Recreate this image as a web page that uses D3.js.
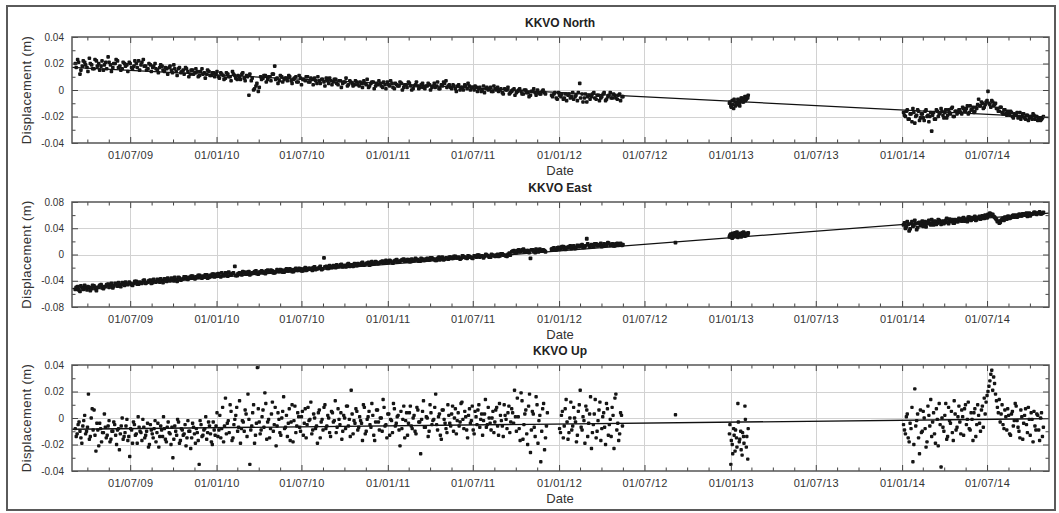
<!DOCTYPE html>
<html><head><meta charset="utf-8">
<script src="https://cdn.jsdelivr.net/npm/d3@7"></script>
<style>
body{margin:0;background:#fff}
text{font-family:"Liberation Sans",Arial,Helvetica,sans-serif}
</style>
</head><body>
<svg id="c" width="1059" height="513"></svg>
<script>
// ---------- axis / tick data ----------
const xDomain = ["2009-02-27", "2014-11-10"];
const xTickDates = ["2009-07-01","2010-01-01","2010-07-01","2011-01-01","2011-07-01","2012-01-01","2012-07-01","2013-01-01","2013-07-01","2014-01-01","2014-07-01"];
const xTickLabels = ["01/07/09","01/01/10","01/07/10","01/01/11","01/07/11","01/01/12","01/07/12","01/01/13","01/07/13","01/01/14","01/07/14"];
const titles = ["KKVO North", "KKVO East", "KKVO Up"];
const northYTicks = [0.04, 0.02, 0, -0.02, -0.04];
const northYLabels = ["0.04", "0.02", "0", "-0.02", "-0.04"];
const eastYTicks = [0.08, 0.04, 0, -0.04, -0.08];
const eastYLabels = ["0.08", "0.04", "0", "-0.04", "-0.08"];
const upYTicks = [0.04, 0.02, 0, -0.02, -0.04];
const upYLabels = ["0.04", "0.02", "0", "-0.02", "-0.04"];

// ---------- series data (displacement in mm) ----------
// "A" and "B" sample sets are interleaved in time
const seg1StartA = "2009-03-06", seg1StartB = "2009-03-08";
const seg2StartA = "2012-12-29", seg2StartB = "2012-12-30";
const seg3StartA = "2014-01-04", seg3StartB = "2014-01-06";
const seg1Step = 5, upSeg1Step = 4, seg2Step = 3, seg3Step = 4;

const northSeg1A = [20,23,12,18,21,17,24,19,16,22, 20,18,15,21,25,19,17,20,22,18, 16,20,19,21,17,18,20,22,19,23,
 18,16,19,17,20,15,17,18,14,16, 17,15,19,14,16,13,15,17,14,12, 15,13,14,11,16,13,12,14,11,13,
 12,10,13,11,9,12,10,14,11,8, 10,12,9,11,-4,7,0,3,-1,10, 9,11,8,10,12,18,9,7,10,8,
 9,11,7,8,10,6,9,8,7,10, 6,8,9,5,7,8,6,9,5,7, 6,8,4,7,5,6,3,7,5,4,
 6,3,5,7,4,2,5,6,3,4, 5,2,4,6,3,5,1,4,3,5, 2,4,6,3,1,4,3,2,5,1,
 3,4,2,5,3,1,4,6,7,3, 2,4,1,3,0,2,4,1,3,2, 0,2,1,-1,3,1,0,2,-1,1,
 2,0,-2,1,0,-3,-1,1,-2,0, -1,-3,0,-2,-4,-1,-2,0,-3,-1, -2,null,null,-4,-3,-6,-2,-5,-7,-3,
 -4,-6,-2,-5,-8,5,-3,-6,-9,-4, -5,-2,-7,-4,-6,-3,-8,-5,-2,-6, -4,-7,-3,-5];
const northSeg1B = [17,21,15,22,19,14,20,16,23,18, 15,22,19,16,21,14,20,23,17,15, 21,18,14,20,16,22,17,15,21,18,
 15,20,14,18,16,13,19,15,17,12, 18,13,16,11,17,14,12,16,10,15, 12,16,10,14,12,9,15,11,13,10,
 14,9,12,8,13,10,7,12,9,11, 8,13,7,10,12,9,1,5,2,8, 11,6,10,7,12,8,5,11,6,9,
 7,10,5,9,6,11,4,8,10,6, 9,4,7,10,5,8,3,7,9,4, 8,5,7,2,6,9,4,6,3,7,
 4,6,2,5,8,3,6,1,5,7, 3,6,1,4,7,2,5,3,6,0, 4,2,5,0,3,6,1,4,2,3,
 5,0,3,2,6,1,3,5,2,4, 1,3,-1,4,2,0,3,5,0,2, 3,-1,2,0,-2,2,1,-1,3,0,
 -1,1,-3,0,2,-2,0,-4,-1,1, -3,0,-2,-5,-1,1,-4,-2,-3,0, -3,null,null,-5,-2,-7,-4,-3,-6,-8,
 -3,-5,-7,-4,-2,-6,-9,-3,-5,-7, -3,-6,-4,-8,-5,-2,-7,-4,-6,-3, -6,-4,-8,-5];
const northSeg2A = [-10,-12,-8,-14,-9,-11,-7,-10,-8,-6,-9,-5,-7,-6];
const northSeg2B = [-9,-13,-11,-7,-12,-10,-8,-12,-6,-9,-7,-8,-5,-4];
const northSeg3A = [-17,-20,-15,-22,-18,-14,-25,-19,-16,-21, -18,-23,-15,-19,-20,-31,-17,-22,-16,-18,
 -14,-19,-17,-21,-15,-18,-13,-20,-16,-17, -15,-18,-14,-16,-12,-17,-15,-13,-16,-14,
 -7,-12,-10,-13,-9,-1,-11,-8,-12,-10, -14,-16,-13,-18,-15,-19,-17,-16,-20,-18,
 -19,-21,-17,-20,-18,-22,-19,-21,-20,-18, -22,-20,-21,-23,-21];
const northSeg3B = [-19,-16,-22,-18,-24,-17,-20,-15,-23,-18, -21,-16,-20,-24,-17,-19,-22,-15,-20,-17,
 -16,-21,-15,-19,-17,-14,-20,-16,-18,-15, -17,-13,-16,-14,-18,-12,-15,-17,-13,-11,
 -12,-9,-14,-11,-8,-10,-13,-9,-11,-14, -16,-13,-17,-15,-18,-16,-19,-17,-21,-19,
 -17,-20,-22,-18,-21,-19,-23,-20,-22,-19, -20,-23,-21,-22,-20];

const eastSeg1A = [-53,-49,-56,-51,-47,-54,-50,-52,-48,-55, -50,-46,-52,-49,-45,-47,-51,-44,-48,-46, -43,-47,-45,-42,-46,-44,-41,-45,-43,-40,
 -44,-42,-39,-43,-41,-38,-42,-40,-37,-41, -39,-36,-40,-38,-35,-39,-37,-34,-38,-36, -33,-37,-35,-32,-36,-34,-31,-35,-33,-30,
 -32,-29,-34,-31,-28,-33,-30,-29,-18,-32, -28,-31,-27,-30,-26,-29,-28,-25,-30,-27, -26,-29,-24,-27,-25,-28,-23,-26,-24,-27,
 -22,-25,-23,-26,-21,-24,-22,-25,-20,-23, -21,-24,-19,-22,-20,-23,-5,-18,-21,-19, -17,-20,-18,-16,-19,-17,-15,-18,-16,-14,
 -17,-15,-13,-16,-14,-12,-15,-13,-11,-14, -12,-10,-13,-11,-9,-12,-10,-8,-11,-9, -7,-10,-8,-11,-9,-6,-8,-10,-7,-9,
 -6,-8,-5,-7,-9,-4,-6,-8,-5,-7, -4,-6,-3,-5,-7,-2,-4,-6,-3,-5, -2,-4,-1,-3,-5,0,-2,-4,-1,-3,
 0,-2,1,-1,-3,2,4,6,3,7, 5,8,4,6,-6,7,3,6,8,5, 6,null,null,8,10,7,11,9,12,8,
 10,13,11,9,14,12,15,11,24,13, 15,12,16,14,17,13,15,18,14,16, 13,17,15,14];
const eastSeg1B = [-50,-54,-48,-53,-51,-49,-55,-47,-52,-50, -47,-51,-49,-46,-50,-44,-48,-46,-43,-49, -45,-42,-46,-44,-47,-41,-45,-42,-44,-39,
 -43,-40,-44,-38,-42,-40,-37,-43,-39,-36, -40,-37,-35,-41,-36,-38,-34,-37,-35,-33, -36,-34,-32,-35,-33,-31,-36,-32,-30,-34,
 -30,-33,-28,-32,-30,-27,-31,-28,-32,-29, -30,-26,-29,-27,-31,-28,-26,-29,-27,-25, -28,-25,-27,-24,-28,-26,-25,-23,-27,-24,
 -25,-22,-26,-23,-24,-21,-25,-22,-24,-21, -22,-20,-23,-21,-18,-22,-19,-21,-17,-20, -19,-16,-18,-15,-17,-19,-14,-16,-18,-15,
 -14,-16,-12,-15,-13,-16,-11,-14,-12,-13, -11,-13,-9,-12,-10,-13,-9,-11,-10,-8, -10,-8,-11,-7,-9,-8,-10,-6,-9,-7,
 -8,-5,-7,-9,-6,-8,-4,-7,-6,-4, -6,-3,-5,-4,-6,-3,-5,-2,-4,-6, -3,-1,-4,-2,-3,-1,-4,0,-2,-1,
 -3,1,-1,-2,0,-1,5,3,6,4, 7,4,6,3,7,5,8,4,6,7, 4,null,null,9,7,10,8,12,9,11,
 12,9,13,11,12,14,11,13,16,12, 14,16,13,15,12,16,14,17,15,13, 16,14,17,15];
const eastSeg2A = [27,31,25,29,33,28,26,30,32,29,34,28,31,30];
const eastSeg2B = [29,26,32,27,30,34,29,31,27,33,30,32,29,33];
const eastSeg3A = [45,40,50,36,47,43,52,38,48,44, 51,46,42,49,47,53,45,50,48,52, 46,51,49,55,47,50,53,48,52,50,
 54,51,56,53,50,57,52,55,58,53, 56,54,59,55,57,61,63,60,58,55, 50,48,52,55,57,54,58,56,59,57,
 60,58,61,59,62,60,58,63,61,62, 64,61,63,62,63];
const eastSeg3B = [48,42,46,39,50,44,47,41,49,46, 43,50,47,52,45,48,51,46,53,49, 50,47,52,49,54,51,48,53,50,55,
 52,55,51,54,57,53,56,54,52,56, 58,55,57,60,56,59,62,61,57,53, 51,49,54,52,56,58,55,57,60,58,
 57,61,59,62,60,63,61,59,62,64, 62,63,65,62,64];

const upSeg1A = [-8,-12,-3,-15,-6,2,-10,18,-14,7, 6,-25,-9,-4,-18,-11,-7,-13,-2,-16, -10,-5,-20,-8,-12,0,-14,-6,-17,-29,
 -9,-3,-13,-19,-7,-11,-1,-15,-10,-22, -5,-12,-8,-18,-4,-14,-9,1,-16,-7, -11,-20,-30,-6,-13,-3,-17,-9,-12,-21,
 -2,-10,-15,-7,-19,-11,-35,-5,-13,-8, -16,-3,-12,-20,-9,-6,-14,2,-8,-18, 15,-4,-11,5,-15,-1,8,-7,-19,-2,
 -10,3,18,-35,-6,10,-13,38,-3,-9, 6,19,-16,-1,-8,12,-5,-21,4,-11, 0,16,-7,-14,7,-3,-18,9,-6,1,
 -10,5,-4,-15,8,-1,-12,3,-8,-19, 6,-3,-9,10,-6,0,-14,4,-2,-11, 7,-5,-16,2,-8,9,-1,21,-12,-4,
 5,-7,-2,-17,8,-10,1,-5,11,-13, -3,6,-9,0,14,-6,-15,3,-1,-11, 7,-4,2,-21,-8,9,-2,-13,4,-6,
 0,-10,8,-3,-27,5,-7,1,-14,10, -5,-1,18,-9,3,-16,6,-4,-11,2, -6,9,0,-12,4,-3,12,-8,1,-15,
 7,-2,-9,5,-5,10,-1,-13,3,-7, 8,-4,0,-11,6,-6,11,-2,-14,2, -8,9,-3,4,21,-10,1,-17,13,-5,
 6,-20,18,-9,3,-14,10,-2,-33,7, -24,-6,null,null,null,null,null,null,-8,2, -15,7,-3,-11,12,-6,0,-18,5,21,
 -9,-2,9,-14,3,-23,-5,14,-10,6, -17,1,-7,11,-13,-1,8,-23,18,-4, -12,2];
const upSeg1B = [-14,-5,-10,-19,-2,-12,-7,-16,0,-9, -13,-4,-21,-8,-11,3,-15,-6,-18,-10, -3,-13,-9,-24,-6,-16,-11,-1,-14,-8,
 -19,-5,-12,1,-10,-17,-7,-13,-4,-20, -9,-15,-2,-11,-22,-6,-14,-8,-18,-3, -12,-7,-16,-10,-1,-19,-8,-13,-5,-15,
 -10,-23,-4,-12,-8,-17,-2,-14,-9,1, -11,-6,-18,-3,-13,4,-9,-15,8,-6, -12,-2,10,-17,-5,2,-10,13,-8,-3,
 6,-14,-1,-9,4,-19,-4,7,-12,1, -7,11,-3,-15,3,-10,8,-6,-1,-13, 5,-8,2,-4,-17,10,-2,-11,4,-7,
 1,-13,7,-5,-2,12,-9,0,-6,4, -15,-1,8,-8,2,-11,5,-3,13,-7, -1,4,-10,0,9,-6,-14,3,-2,7,
 -9,1,-4,10,-12,-1,5,-7,2,-17, 6,-3,0,-10,8,-5,3,-13,-2,11, -6,1,-9,5,-1,-15,4,-4,9,-8,
 2,-12,6,-3,-1,13,-7,0,-10,4, -2,8,-5,1,-13,6,-1,-8,10,-4, 3,-10,7,-2,-6,11,-1,5,-9,2,
 -4,9,-12,1,6,-7,3,-2,14,-5, 0,-9,5,-3,8,-13,2,-6,10,-1, 4,-11,7,-4,1,15,-8,19,-16,3,
 -12,9,-26,5,-7,16,-19,2,-10,11, -15,4,null,null,null,null,null,null,-11,5, -6,14,-16,0,-9,8,-3,-13,10,-7,
 1,-19,6,-4,16,-11,3,-15,-2,12, -8,4,-20,7,-5,-14,2,15,-9,-17, 4,-6];
const upSeg2A = [-12,-35,-20,-8,-25,-15,11,-18,-10,-28,-14,9,-22,-31];
const upSeg2B = [-5,-17,-27,-13,-9,-22,-3,-16,-24,-11,-19,-1,-14,-8];
const upSeg3A = [-5,-12,3,-18,-8,-33,22,-2,-15,6, -10,0,-22,9,-6,-14,4,-19,-1,11, -37,-7,2,-16,8,-4,-11,13,-9,1,
 -3,6,-13,10,-1,-8,4,-17,7,-5, 2,-10,9,15,12,20,28,36,31,18, 8,14,3,-5,6,-9,2,-13,5,-2,
 9,-7,-15,1,-4,7,-11,-1,4,-18, -6,3,-9,0,-14];
const upSeg3B = [-9,1,-15,-4,8,-20,-6,3,-27,-11, 5,-8,-18,2,14,-3,-12,7,-21,-5, 0,-10,11,-14,-2,5,-17,3,-7,9,
 -12,1,7,-5,12,-9,-1,4,-14,10, -4,6,-7,3,17,24,33,21,26,13, 4,-3,10,-8,1,7,-12,3,-6,11,
 -2,-10,6,-16,2,-5,8,-13,-1,5, -9,2,-17,4,-7];

const loneDates = ["2012-09-05"];
const eastLone = [18];
const upLone = [2.5];

// fitted linear trends (m)
const lineDates = ["2009-02-27", "2014-11-10"];
const northLine = [0.0170, -0.0208];
const eastLine = [-0.052, 0.063];
const upLine = [-0.0085, -0.0005];

// ---------- drawing ----------
const parse = s => new Date(s + "T00:00:00Z");
const addDays = (d, n) => new Date(d.getTime() + n * 86400000);
const svg = d3.select("#c");
svg.append("rect").attr("width", 1059).attr("height", 513).attr("fill", "#fff");
svg.append("rect").attr("x", 7).attr("y", 6).attr("width", 1048).attr("height", 504)
  .attr("fill", "none").attr("stroke", "#5a5a5a").attr("stroke-width", 2);

const X0 = 72, X1 = 1049;
const x = d3.scaleUtc().domain(xDomain.map(parse)).range([X0, X1]);
const majorDates = xTickDates.map(parse);
// minor tick dates: quarter positions between labelled dates
const minorDates = [];
for (let k = -3; k < majorDates.length * 4; k++) {
  if (k % 4 === 0) continue;
  const base = majorDates[0].getTime() + (k / 4) * (majorDates[majorDates.length - 1] - majorDates[0]) / (majorDates.length - 1);
  const d = new Date(base);
  if (d >= x.domain()[0] && d <= x.domain()[1]) minorDates.push(d);
}

function series(start, step, vals) {
  const s = parse(start), out = [];
  vals.forEach((v, i) => { if (v !== null) out.push({ d: addDays(s, i * step), v: v / 1000 }); });
  return out;
}

const panels = [
  { top: 37, bottom: 143, lim: 0.04, ticks: northYTicks, labels: northYLabels, minor: 0.01, ms: 3.6,
    pts: [...series(seg1StartA, seg1Step, northSeg1A), ...series(seg1StartB, seg1Step, northSeg1B),
          ...series(seg2StartA, seg2Step, northSeg2A), ...series(seg2StartB, seg2Step, northSeg2B),
          ...series(seg3StartA, seg3Step, northSeg3A), ...series(seg3StartB, seg3Step, northSeg3B)],
    line: northLine },
  { top: 202, bottom: 307, lim: 0.08, ticks: eastYTicks, labels: eastYLabels, minor: 0.02, ms: 3.8,
    pts: [...series(seg1StartA, seg1Step, eastSeg1A), ...series(seg1StartB, seg1Step, eastSeg1B),
          ...series(seg2StartA, seg2Step, eastSeg2A), ...series(seg2StartB, seg2Step, eastSeg2B),
          ...series(seg3StartA, seg3Step, eastSeg3A), ...series(seg3StartB, seg3Step, eastSeg3B),
          ...loneDates.map((d, i) => ({ d: parse(d), v: eastLone[i] / 1000 }))],
    line: eastLine },
  { top: 365, bottom: 471, lim: 0.04, ticks: upYTicks, labels: upYLabels, minor: 0.01, ms: 3.4,
    pts: [...series(seg1StartA, upSeg1Step, upSeg1A), ...series(seg1StartB, upSeg1Step, upSeg1B),
          ...series(seg2StartA, seg2Step, upSeg2A), ...series(seg2StartB, seg2Step, upSeg2B),
          ...series(seg3StartA, seg3Step, upSeg3A), ...series(seg3StartB, seg3Step, upSeg3B),
          ...loneDates.map((d, i) => ({ d: parse(d), v: upLone[i] / 1000 }))],
    line: upLine }
];

panels.forEach((p, pi) => {
  const y = d3.scaleLinear().domain([-p.lim, p.lim]).range([p.bottom, p.top]);
  const g = svg.append("g");
  const minorY = d3.range(-p.lim, p.lim + 1e-9, p.minor).filter(v => !p.ticks.some(t => Math.abs(t - v) < 1e-9));

  // grid
  g.append("g").selectAll("line").data(majorDates).join("line")
    .attr("x1", d => Math.round(x(d)) + 0.5).attr("x2", d => Math.round(x(d)) + 0.5)
    .attr("y1", p.top).attr("y2", p.bottom).attr("stroke", "#d2d2d2").attr("stroke-width", 1);
  g.append("g").selectAll("line").data(p.ticks.filter(t => Math.abs(t) < p.lim - 1e-9)).join("line")
    .attr("x1", X0).attr("x2", X1).attr("y1", d => Math.round(y(d)) + 0.5).attr("y2", d => Math.round(y(d)) + 0.5)
    .attr("stroke", "#d2d2d2").attr("stroke-width", 1);

  // trend line
  g.append("path").datum(lineDates.map((d, i) => ({ d: parse(d), v: p.line[i] })))
    .attr("d", d3.line().x(d => x(d.d)).y(d => y(d.v)))
    .attr("fill", "none").attr("stroke", "#111").attr("stroke-width", 1.3);

  // data points
  const h = p.ms / 2;
  g.append("g").selectAll("rect").data(p.pts).join("rect")
    .attr("x", d => x(d.d) - h).attr("y", d => y(d.v) - h)
    .attr("width", p.ms).attr("height", p.ms).attr("rx", 1)
    .attr("fill", "#151515");

  const styleAxis = sel => { sel.select(".domain").remove(); sel.selectAll("line").attr("stroke", "#444"); };

  // x axes (bottom with labels, top without)
  g.append("g").attr("transform", `translate(0,${p.bottom})`)
    .call(d3.axisBottom(x).tickValues(majorDates).tickSize(-6).tickPadding(8).tickFormat((d, i) => xTickLabels[i]))
    .call(styleAxis)
    .call(s => s.selectAll("text").attr("font-size", 11).attr("fill", "#333").attr("letter-spacing", 0.3)
      .attr("font-family", "'Liberation Sans', Arial, sans-serif"));
  g.append("g").attr("transform", `translate(0,${p.bottom})`)
    .call(d3.axisBottom(x).tickValues(minorDates).tickSize(-3.5).tickFormat(""))
    .call(styleAxis);
  g.append("g").attr("transform", `translate(0,${p.top})`)
    .call(d3.axisTop(x).tickValues(majorDates).tickSize(-6).tickFormat(""))
    .call(styleAxis);
  g.append("g").attr("transform", `translate(0,${p.top})`)
    .call(d3.axisTop(x).tickValues(minorDates).tickSize(-3.5).tickFormat(""))
    .call(styleAxis);

  // y axes
  g.append("g").attr("transform", `translate(${X0},0)`)
    .call(d3.axisLeft(y).tickValues(p.ticks).tickSize(-6).tickPadding(8).tickFormat((d, i) => p.labels[i]))
    .call(styleAxis)
    .call(s => s.selectAll("text").attr("font-size", 10).attr("fill", "#333")
      .attr("font-family", "'Liberation Sans', Arial, sans-serif"));
  g.append("g").attr("transform", `translate(${X0},0)`)
    .call(d3.axisLeft(y).tickValues(minorY).tickSize(-3.5).tickFormat(""))
    .call(styleAxis);
  g.append("g").attr("transform", `translate(${X1},0)`)
    .call(d3.axisRight(y).tickValues(p.ticks).tickSize(-6).tickFormat(""))
    .call(styleAxis);
  g.append("g").attr("transform", `translate(${X1},0)`)
    .call(d3.axisRight(y).tickValues(minorY).tickSize(-3.5).tickFormat(""))
    .call(styleAxis);

  // box
  g.append("rect").attr("x", X0).attr("y", p.top).attr("width", X1 - X0).attr("height", p.bottom - p.top)
    .attr("fill", "none").attr("stroke", "#555").attr("stroke-width", 1.5);

  // texts
  g.append("text").attr("x", 560).attr("y", p.top - 10).attr("text-anchor", "middle")
    .attr("font-size", 12).attr("font-weight", "bold").attr("fill", "#222").text(titles[pi]);
  g.append("text").attr("x", 560).attr("y", p.bottom + 32).attr("text-anchor", "middle")
    .attr("font-size", 13).attr("fill", "#333").text("Date");
  g.append("text").attr("transform", `translate(31,${(p.top + p.bottom) / 2}) rotate(-90)`)
    .attr("text-anchor", "middle").attr("font-size", 13).attr("letter-spacing", 0.4)
    .attr("fill", "#333").text("Displacement (m)");
});
</script>
</body></html>
